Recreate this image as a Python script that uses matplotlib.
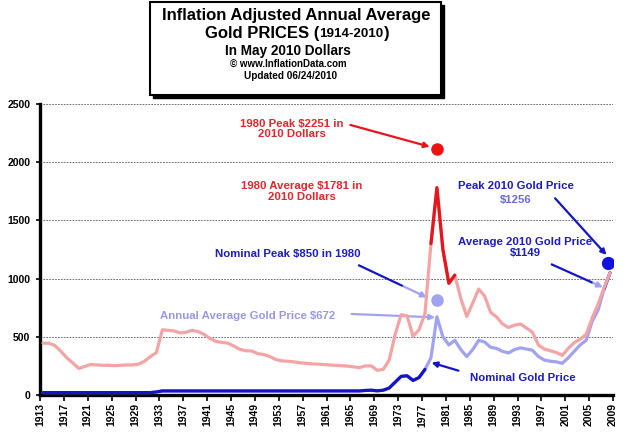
import numpy as np
import matplotlib.pyplot as plt
from matplotlib.patches import Rectangle

plt.rcParams['font.family'] = ['Liberation Sans', 'DejaVu Sans']
plt.rcParams['font.weight'] = 'bold'

# annual averages, 1914-2009
years = np.arange(1914, 2010)

# inflation adjusted (May 2010 dollars)
real_price = [445, 445, 425, 375, 320, 275, 228, 245, 262, 258,
              255, 255, 252, 255, 258, 258, 265, 290, 330, 365,
              560, 555, 550, 533, 540, 555, 545, 520, 485, 460,
              452, 445, 420, 392, 380, 378, 355, 348, 330, 305,
              293, 290, 285, 278, 272, 268, 265, 262, 258, 255,
              252, 248, 242, 235, 250, 250, 212, 220, 300, 520,
              690, 680, 505, 560, 700, 1300, 1781, 1250, 960, 1030,
              830, 675, 790, 910, 850, 710, 670, 610, 580, 600,
              610, 575, 540, 430, 395, 380, 365, 340, 400, 450,
              480, 520, 660, 780, 920, 1050]

# nominal price
nominal_price = [20.67] * 19 + [26] + [35] * 34 + \
                [39, 41, 36, 41, 60, 110, 160, 165, 125, 150,
                 220, 320, 672, 500, 430, 470, 390, 330, 390, 470,
                 455, 410, 400, 375, 362, 390, 405, 395, 385, 330,
                 300, 290, 285, 272, 320, 375, 430, 470, 630, 730,
                 910, 1050]

# the three dots
dot_years = [1980, 1980, 2010]
dot_values = [2110, 816, 1137]

xtick_years = list(range(1913, 2010, 4))
ytick_values = [0, 500, 1000, 1500, 2000, 2500]

red_dark = '#E8141C'
pink = '#F4A4A4'
blue_dark = '#1414C8'
lavender = '#A2A2F2'
red_txt = '#E3262D'
blue_txt = '#1C1CC0'
lav_txt = '#9898E8'

W, H = 639, 436
fig = plt.figure(figsize=(W / 100, H / 100), dpi=100)


def fx(x):
    return x / W


def fy(y):
    return 1 - y / H


ax = fig.add_axes([fx(40), fy(395), (613 - 40) / W, (395 - 104) / H])

yrs = np.array(years)
real = np.array(real_price, dtype=float)
nom = np.array(nominal_price, dtype=float)
xpos = yrs - 0.5   # points sit half a year left of the labels

# nominal line: lavender with dark blue ends
ax.plot(xpos, nom, color=lavender, lw=2.3, solid_capstyle='round', zorder=3)
m = yrs <= 1978
ax.plot(xpos[m], nom[m], color=blue_dark, lw=2.3, solid_capstyle='round', zorder=3)
m = yrs >= 2008
ax.plot(xpos[m], nom[m], color=blue_dark, lw=2.3, solid_capstyle='round', zorder=3)

# inflation adjusted line: pink with red around the 1980 peak
ax.plot(xpos, real, color=pink, lw=2.3, solid_capstyle='round', zorder=4)
m = (yrs >= 1979) & (yrs <= 1983)
ax.plot(xpos[m], real[m], color=red_dark, lw=2.3, solid_capstyle='round', zorder=4)

dx = [y - 0.5 for y in dot_years]
dx[2] = 2008.2
ax.plot(dx[0], dot_values[0], 'o', color='#EE1111', ms=8, zorder=5)
ax.plot(dx[1], dot_values[1], 'o', color=lavender, ms=8, zorder=5)
ax.plot(dx[2], dot_values[2], 'o', color='#1010E0', ms=8.5, zorder=5)

ax.set_xlim(1913, 2009)
ax.set_ylim(0, 2500)
ax.set_xticks(xtick_years)
ax.set_xticklabels([str(y) for y in xtick_years], rotation=90, fontsize=7.5,
                   fontweight='bold')
ax.set_yticks(ytick_values)
ax.set_yticklabels([str(v) for v in ytick_values], fontsize=7.5, fontweight='bold')
ax.tick_params(axis='x', length=4, width=1.2, pad=2)
ax.tick_params(axis='y', length=3, width=1.2, pad=4)
ax.yaxis.grid(True, linestyle=(0, (2, 1.5)), color='#555555', lw=0.6)
ax.set_axisbelow(True)
for s in ['top', 'right']:
    ax.spines[s].set_visible(False)
for s in ['left', 'bottom']:
    ax.spines[s].set_linewidth(2.4)
    ax.spines[s].set_color('black')


# arrows (data coordinates)
def arrow(x1, y1, x2, y2, color, color2=None, split=0.65):
    if color2 is None:
        ax.annotate('', xy=(x2, y2), xytext=(x1, y1), annotation_clip=False,
                    arrowprops=dict(arrowstyle='-|>', color=color, lw=1.6,
                                    mutation_scale=8, shrinkA=0, shrinkB=0))
    else:
        xm = x1 + (x2 - x1) * split
        ym = y1 + (y2 - y1) * split
        ax.plot([x1, xm], [y1, ym], color=color, lw=1.6, clip_on=False,
                solid_capstyle='butt', zorder=6)
        ax.annotate('', xy=(x2, y2), xytext=(xm, ym), annotation_clip=False,
                    arrowprops=dict(arrowstyle='-|>', color=color2, lw=1.6,
                                    mutation_scale=8, shrinkA=0, shrinkB=0))


arrow(1965.0, 2320, 1978.3, 2133, red_dark)
arrow(1966.3, 1117, 1977.8, 839, blue_dark, lavender)
arrow(1965.2, 696, 1979.2, 667, lavender)
arrow(1983.1, 209, 1978.6, 278, blue_dark)
arrow(1999.3, 1690, 2007.9, 1203, blue_dark)
arrow(1998.6, 1125, 2007.3, 925, blue_dark, lavender, 0.8)

# annotation texts (figure pixel positions)
fs = 8.2
fig.text(fx(292), fy(129), '1980 Peak $2251 in\n2010 Dollars', color=red_txt,
         fontsize=fs, ha='center', va='center', linespacing=1.1)
fig.text(fx(302), fy(191.5), '1980 Average $1781 in\n2010 Dollars', color=red_txt,
         fontsize=fs, ha='center', va='center', linespacing=1.1)
fig.text(fx(288), fy(254), 'Nominal Peak $850 in 1980', color=blue_txt,
         fontsize=fs, ha='center', va='center')
fig.text(fx(248), fy(316), 'Annual Average Gold Price $672', color=lav_txt,
         fontsize=fs, ha='center', va='center')
fig.text(fx(523), fy(378), 'Nominal Gold Price', color=blue_txt,
         fontsize=fs, ha='center', va='center')
fig.text(fx(516), fy(186), 'Peak 2010 Gold Price', color=blue_txt,
         fontsize=fs, ha='center', va='center')
fig.text(fx(516), fy(199.5), '$1256', color='#6A6AD8',
         fontsize=fs, ha='center', va='center')
fig.text(fx(525), fy(247.5), 'Average 2010 Gold Price\n$1149', color=blue_txt,
         fontsize=fs, ha='center', va='center', linespacing=1.1)

# title box with shadow
fig.patches.append(Rectangle((fx(153), fy(98)), (441 - 150) / W, (98 - 5) / H,
                             transform=fig.transFigure, facecolor='black',
                             edgecolor='black', zorder=1))
fig.patches.append(Rectangle((fx(150), fy(95)), (441 - 150) / W, (95 - 2) / H,
                             transform=fig.transFigure, facecolor='white',
                             edgecolor='black', lw=1.5, zorder=2))

fig.text(fx(296), fy(15.5), 'Inflation Adjusted Annual Average', fontsize=12,
         ha='center', va='center', zorder=3)
r = fig.canvas.get_renderer()
t1 = fig.text(0, fy(33.5), 'Gold PRICES (', fontsize=12, ha='left', va='center', zorder=3)
t2 = fig.text(0, fy(34), '1914-2010', fontsize=9.6, ha='left', va='center', zorder=3)
t3 = fig.text(0, fy(33.5), ')', fontsize=12, ha='left', va='center', zorder=3)
w1 = t1.get_window_extent(r).width
w2 = t2.get_window_extent(r).width
w3 = t3.get_window_extent(r).width
x0 = 297 - (w1 + w2 + w3) / 2
t1.set_x(fx(x0))
t2.set_x(fx(x0 + w1))
t3.set_x(fx(x0 + w1 + w2))
fig.text(fx(288), fy(51.5), 'In May 2010 Dollars', fontsize=9.8, ha='center',
         va='center', zorder=3)
fig.text(fx(288), fy(64), '\u00a9 www.InflationData.com', fontsize=7,
         ha='center', va='center', zorder=3)
fig.text(fx(291), fy(76), 'Updated 06/24/2010', fontsize=7.2, ha='center',
         va='center', zorder=3)

fig.savefig('out.png', dpi=100)
